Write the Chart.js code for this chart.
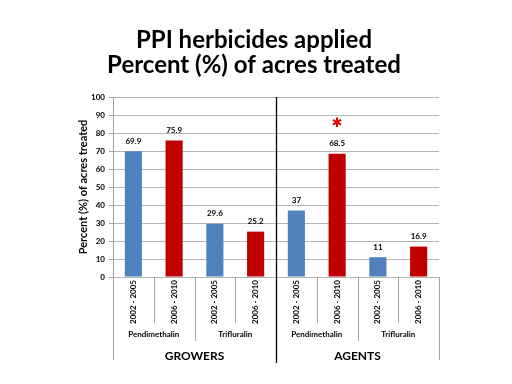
<!DOCTYPE html>
<html>
<head>
<meta charset="utf-8">
<script src="https://cdn.jsdelivr.net/npm/chart.js@4"></script>
<style>
  html, body { margin: 0; padding: 0; background: #fff; }
  #wrap { width: 512px; height: 384px; }
</style>
</head>
<body>
<div id="wrap"><canvas id="ppi_chart" width="512" height="384"></canvas></div>
<script>
// chart values
const periods = ['2002 - 2005', '2006 - 2010', '2002 - 2005', '2006 - 2010', '2002 - 2005', '2006 - 2010', '2002 - 2005', '2006 - 2010'];
const herbicides = ['Pendimethalin', 'Trifluralin', 'Pendimethalin', 'Trifluralin'];
const groups = ['GROWERS', 'AGENTS'];
const percents = [69.9, 75.9, 29.6, 25.2, 37, 68.5, 11, 16.9];
const percentLabels = ['69.9', '75.9', '29.6', '25.2', '37', '68.5', '11', '16.9'];
const yTicks = [0, 10, 20, 30, 40, 50, 60, 70, 80, 90, 100];
const starIndex = 5;
const starValue = 85;

const barColors = percents.map((v, i) => i % 2 === 0 ? '#4f81bd' : '#c00000');
const fontFam = 'Lato, "Open Sans", sans-serif';

// titles, value labels, star and the label boxes under the bars
const extras = {
    id: 'extras',
    afterDatasetsDraw(chart) {
        const ctx = chart.ctx;
        const x = chart.scales.x, y = chart.scales.y;
        const area = chart.chartArea;
        const step = (area.right - area.left) / periods.length;
        ctx.save();

        // title
        ctx.fillStyle = '#000';
        ctx.textAlign = 'center';
        ctx.textBaseline = 'middle';
        ctx.font = 'bold 24px ' + fontFam;
        ctx.fillText('PPI herbicides applied', 254, 40);
        ctx.fillText('Percent (%) of acres treated', 254, 65);

        // y title
        ctx.save();
        ctx.translate(83, (area.top + area.bottom) / 2);
        ctx.rotate(-Math.PI / 2);
        ctx.font = 'bold 11px ' + fontFam;
        ctx.fillText('Percent (%) of acres treated', 0, 0);
        ctx.restore();

        // value labels
        ctx.font = 'bold 8px ' + fontFam;
        percents.forEach((v, i) => {
            ctx.fillText(percentLabels[i], x.getPixelForValue(i), y.getPixelForValue(v) - 10);
        });

        // red star
        ctx.fillStyle = '#e00000';
        ctx.font = 'bold 13px "DejaVu Sans", sans-serif';
        ctx.fillText('\u2731', x.getPixelForValue(starIndex), y.getPixelForValue(starValue));

        // label boxes
        const b = area.bottom;
        ctx.strokeStyle = '#a6a6a6';
        ctx.lineWidth = 1;
        const vline = (px, y1, y2) => {
            ctx.beginPath();
            ctx.moveTo(Math.round(px) + 0.5, y1);
            ctx.lineTo(Math.round(px) + 0.5, y2);
            ctx.stroke();
        };
        for (let i = 0; i <= periods.length; i++) {
            const px = area.left + i * step;
            let bottom = b + 46;
            if (i % 2 === 0) bottom = b + 64;
            if (i % 4 === 0) bottom = b + 83;
            if (i === 4) continue;
            vline(px, b, bottom);
        }

        ctx.fillStyle = '#000';
        ctx.font = 'bold 8px ' + fontFam;
        periods.forEach((p, i) => {
            ctx.save();
            ctx.translate(x.getPixelForValue(i), b + 25);
            ctx.rotate(-Math.PI / 2);
            ctx.fillText(p, 0, 0);
            ctx.restore();
        });
        herbicides.forEach((h, i) => {
            ctx.fillText(h, area.left + (i * 2 + 1) * step, b + 57);
        });
        ctx.font = 'bold 12px ' + fontFam;
        groups.forEach((g, i) => {
            ctx.fillText(g, area.left + (i * 4 + 2) * step, b + 79);
        });

        // middle divider
        ctx.strokeStyle = '#000';
        ctx.lineWidth = 1.3;
        const mid = Math.round(area.left + 4 * step) + 0.5;
        ctx.beginPath();
        ctx.moveTo(mid, area.top);
        ctx.lineTo(mid, b + 86);
        ctx.stroke();

        ctx.restore();
    }
};

new Chart(document.getElementById('ppi_chart'), {
    type: 'bar',
    data: {
        labels: periods,
        datasets: [{
            data: percents,
            backgroundColor: barColors,
            barPercentage: 0.42,
            categoryPercentage: 1
        }]
    },
    options: {
        responsive: false,
        animation: false,
        layout: { padding: { top: 97, left: 0, right: 73, bottom: 107 } },
        scales: {
            x: { display: false },
            y: {
                min: 0,
                max: 100,
                afterFit: s => { s.width = 113; },
                afterBuildTicks: s => { s.ticks = yTicks.map(v => ({ value: v })); },
                grid: { color: '#b4b4b4', lineWidth: 1, tickLength: 4, tickColor: '#a0a0a0' },
                border: { color: '#a0a0a0' },
                ticks: {
                    color: '#000',
                    padding: 4,
                    font: { family: fontFam, size: 8, weight: 'bold' }
                }
            }
        },
        plugins: {
            legend: { display: false },
            tooltip: { enabled: false }
        }
    },
    plugins: [extras]
});
</script>
</body>
</html>
